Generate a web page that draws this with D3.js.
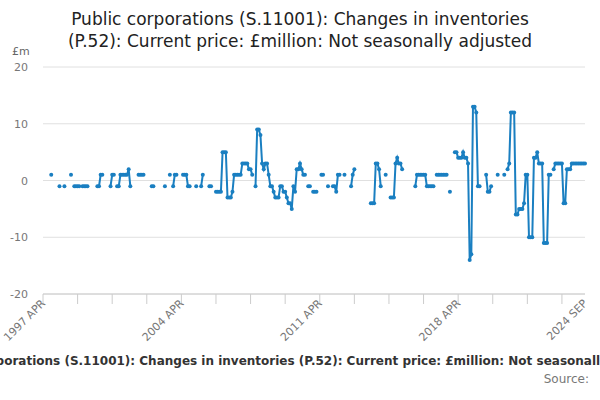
<!DOCTYPE html>
<html><head><meta charset="utf-8">
<script src="https://cdn.jsdelivr.net/npm/d3@7"></script>
<style>body{margin:0;background:#fff;font-family:"DejaVu Sans",sans-serif}</style>
</head><body><div id="chart"></div>
<script>
// Monthly series starting 1997 APR, null = missing
var startYear = 1997, startMonth = 3;
var n = null;
var values = [
  n,n,n,n,n,1,n,n,n,n,
  -1,n,n,-1,n,n,n,1,n,-1,
  -1,-1,-1,n,-1,-1,-1,-1,n,n,
  n,n,n,-1,-1,1,1,n,n,n,
  n,-1,1,1,n,-1,-1,1,1,1,
  1,1,2,-1,n,n,n,n,1,1,
  1,1,n,n,n,n,-1,-1,n,n,
  n,n,n,n,-1,n,n,1,n,-1,
  1,1,n,n,n,1,1,1,-1,-1,
  n,n,n,-1,n,n,-1,1,n,n,
  n,-1,-1,n,n,-2,-2,-2,-2,5,
  5,5,-3,-3,-3,-2,1,1,1,1,
  1,3,3,3,3,2,2,1,n,-1,
  9,9,8,3,2,3,3,1,-1,-1,
  -2,-3,-3,-3,-1,-1,-2,-2,-3,-4,
  -4,-5,-1,-2,2,2,3,2,1,1,
  n,-1,-1,n,-2,-2,-2,n,n,1,
  1,n,n,-1,n,n,-1,-1,-2,1,
  1,n,n,1,n,n,n,-1,1,2,
  n,n,n,n,n,n,n,n,n,-4,
  -4,-4,3,3,2,-1,n,n,1,n,
  n,-3,-3,-3,3,4,3,3,2,n,
  n,n,n,n,n,n,-1,1,1,1,
  1,1,1,-1,-1,-1,-1,-1,n,1,
  1,1,1,1,1,1,n,-2,n,n,
  5,5,4,4,4,5,4,4,3,-14,
  -13,13,13,12,-1,-1,n,n,n,1,
  -2,-2,-1,n,n,n,1,n,n,n,
  1,n,2,3,12,12,12,-6,-6,-5,
  -5,-5,-4,1,1,-10,-10,-10,4,4,
  5,3,3,3,-11,-11,-11,1,1,n,
  2,3,3,3,3,3,-4,-4,2,2,
  2,3,3,3,3,3,3,3,3,3
];
var yTicks = [-20, -10, 0, 10, 20];
var xLabelIdx = [0, 84, 168, 252, 329];
var xLabels = ["1997 APR", "2004 APR", "2011 APR", "2018 APR", "2024 SEP"];

var data = values.map(function(v, i) { return {i: i, v: v}; });

var svg = d3.select("#chart").append("svg").attr("width", 600).attr("height", 400);
var x = d3.scaleLinear().domain([0, values.length - 1]).range([43, 585]);
var y = d3.scaleLinear().domain([-20, 20]).range([294, 67]);

var title = svg.append("text").attr("x", 300).attr("text-anchor", "middle")
  .style("font-size", "17px").attr("fill", "#222");
title.append("tspan").attr("x", 300).attr("y", 25).text("Public corporations (S.11001): Changes in inventories");
title.append("tspan").attr("x", 300).attr("y", 47).text("(P.52): Current price: £million: Not seasonally adjusted");

svg.append("text").attr("x", 12).attr("y", 55).text("£m")
  .style("font-size", "11px").attr("fill", "#666");

svg.selectAll(".grid").data(yTicks).enter().append("line")
  .attr("x1", 43).attr("x2", 585)
  .attr("y1", function(d) { return y(d); }).attr("y2", function(d) { return y(d); })
  .attr("stroke", "#e0e0e0");

svg.selectAll(".ylab").data(yTicks).enter().append("text")
  .attr("x", 28).attr("y", function(d) { return y(d) + 4; })
  .attr("text-anchor", "end").style("font-size", "11px").attr("fill", "#777")
  .text(function(d) { return d; });

// x axis baseline with small ticks
svg.append("line").attr("x1", 43).attr("x2", 585).attr("y1", 294).attr("y2", 294).attr("stroke", "#ccc");
svg.selectAll(".xt").data(d3.range(0, 330, 21)).enter().append("line")
  .attr("x1", function(d) { return x(d); }).attr("x2", function(d) { return x(d); })
  .attr("y1", 294).attr("y2", 304).attr("stroke", "#ccc");

svg.selectAll(".xlab").data(xLabelIdx).enter().append("text")
  .attr("transform", function(d) { return "translate(" + (x(d) + 3) + ",304) rotate(-45)"; })
  .attr("text-anchor", "end").style("font-size", "11px").attr("fill", "#777")
  .text(function(d, k) { return xLabels[k]; });

var line = d3.line().defined(function(d) { return d.v !== null; })
  .x(function(d) { return x(d.i); }).y(function(d) { return y(d.v); });
svg.append("path").datum(data).attr("d", line)
  .attr("fill", "none").attr("stroke", "#1a7fc1").attr("stroke-width", 2);
svg.selectAll(".pt").data(data.filter(function(d) { return d.v !== null; })).enter().append("circle")
  .attr("cx", function(d) { return x(d.i); }).attr("cy", function(d) { return y(d.v); })
  .attr("r", 2).attr("fill", "#1a7fc1");

svg.append("text").attr("x", 300).attr("y", 365).attr("text-anchor", "middle")
  .style("font-size", "12px").style("font-weight", "bold").attr("fill", "#333")
  .text("Public corporations (S.11001): Changes in inventories (P.52): Current price: £million: Not seasonally adjusted");
svg.append("text").attr("x", 589).attr("y", 383).attr("text-anchor", "end")
  .style("font-size", "12px").attr("fill", "#777").text("Source:");
</script></body></html>
